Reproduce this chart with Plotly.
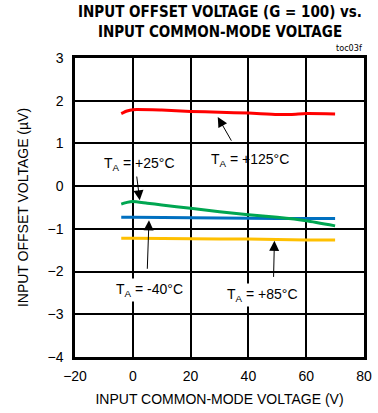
import plotly.graph_objects as go

# Input offset voltage vs input common-mode voltage, four temperatures
x_125 = [-4, -2, 0, 10, 20, 30, 40, 50, 55, 60, 70]
y_125 = [1.70, 1.76, 1.79, 1.78, 1.75, 1.73, 1.71, 1.68, 1.68, 1.70, 1.69]

x_25 = [-4, -2, 0, 5, 10, 20, 30, 40, 50, 60, 70]
y_25 = [-0.42, -0.38, -0.36, -0.40, -0.44, -0.52, -0.60, -0.67, -0.73, -0.81, -0.93]

x_m40 = [-4, 0, 20, 40, 60, 70]
y_m40 = [-0.73, -0.73, -0.74, -0.75, -0.76, -0.76]

x_85 = [-4, 0, 20, 40, 60, 70]
y_85 = [-1.22, -1.22, -1.23, -1.24, -1.26, -1.26]

x_ticks = [-20, 0, 20, 40, 60, 80]
y_ticks = [3, 2, 1, 0, -1, -2, -3, -4]

FONT = "Liberation Sans"
NARROW = "DejaVu Sans Condensed, Liberation Sans"

fig = go.Figure()
for xs, ys, col in [
    (x_85, y_85, "#ffc000"),
    (x_m40, y_m40, "#0070c0"),
    (x_25, y_25, "#00a651"),
    (x_125, y_125, "#ff0000"),
]:
    fig.add_trace(go.Scatter(x=xs, y=ys, mode="lines",
                             line=dict(color=col, width=3, shape="spline", smoothing=0.6),
                             showlegend=False, hoverinfo="skip"))

# Labels: (text, x, y, white box, arrow head x, y, arrow tail x, y)
labels = [
    ("T<sub>A</sub> = +125°C", 40.5, 0.62, False, 29.4, 1.62, 34.4, 1.03),
    ("T<sub>A</sub> = +25°C", 2.2, 0.52, False, 2.4, -0.33, 1.3, 0.26),
    ("T<sub>A</sub> = -40°C", 5.9, -2.42, True, 5.6, -0.80, 5.0, -1.97),
    ("T<sub>A</sub> = +85°C", 44.8, -2.56, True, 49.0, -1.28, 48.7, -2.16),
]
for text, tx, ty, box, hx, hy, sx, sy in labels:
    fig.add_annotation(x=hx, y=hy, ax=sx, ay=sy, axref="x", ayref="y",
                       xref="x", yref="y", text="", showarrow=True,
                       arrowhead=2, arrowsize=2, arrowwidth=1, arrowcolor="black")
    fig.add_annotation(x=tx, y=ty, xref="x", yref="y", text=text, showarrow=False,
                       font=dict(family=FONT, size=14, color="black"),
                       bgcolor="white" if box else "rgba(0,0,0,0)", borderpad=2)

fig.add_annotation(x=0.5, y=1, xref="paper", yref="paper", xanchor="center",
                   yanchor="bottom", yshift=15,
                   text="<b>INPUT OFFSET VOLTAGE (G = 100) vs.<br>INPUT COMMON-MODE VOLTAGE</b>",
                   showarrow=False, align="center",
                   font=dict(family=NARROW, size=15, color="black"))
fig.add_annotation(x=1, y=1, xref="paper", yref="paper", xanchor="right",
                   yanchor="bottom", yshift=3, text="toc03f", showarrow=False,
                   font=dict(family=NARROW, size=9, color="black"))

axis_common = dict(showgrid=True, gridcolor="black", gridwidth=1.5,
                   showline=True, linecolor="black", linewidth=2.5, mirror=True,
                   zeroline=False, ticks="",
                   tickfont=dict(family=FONT, size=14, color="black"))

fig.update_xaxes(range=[-20, 80], tickvals=x_ticks, ticklabelstandoff=4,
                 title=dict(text="INPUT COMMON-MODE VOLTAGE (V)", standoff=12,
                            font=dict(family=FONT, size=14, color="black")),
                 **axis_common)
fig.update_yaxes(range=[-4, 3], tickvals=y_ticks, ticklabelstandoff=6,
                 title=dict(text="INPUT OFFSET VOLTAGE (µV)", standoff=16,
                            font=dict(family=FONT, size=14, color="black")),
                 **axis_common)

fig.update_layout(width=378, height=413, margin=dict(l=75, r=6, t=58, b=56),
                  plot_bgcolor="white", paper_bgcolor="white")

fig.write_html("out.html")
